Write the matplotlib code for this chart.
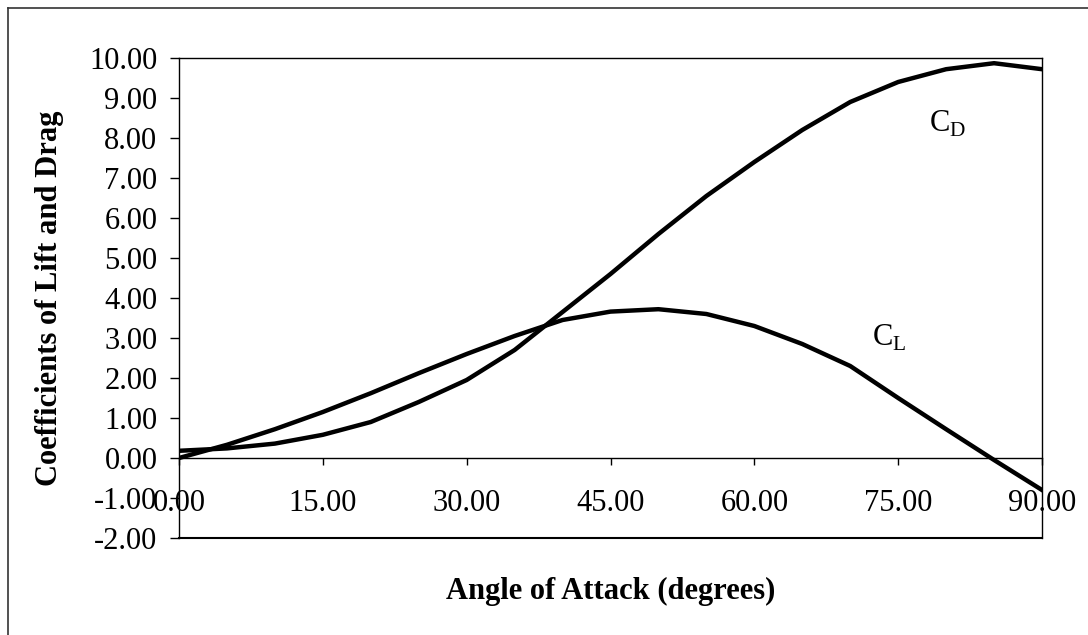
import matplotlib
matplotlib.use("Agg")
import matplotlib.pyplot as plt
from matplotlib.lines import Line2D

# values, every 5 degrees
angle = [0, 5, 10, 15, 20, 25, 30, 35, 40, 45, 50, 55, 60, 65, 70, 75, 80, 85, 90]
cl = [0.00, 0.33, 0.72, 1.15, 1.62, 2.12, 2.60, 3.05, 3.45, 3.66, 3.72, 3.60, 3.30, 2.85, 2.30, 1.50, 0.72, -0.05, -0.80]
cd = [0.18, 0.24, 0.36, 0.58, 0.90, 1.40, 1.95, 2.70, 3.65, 4.60, 5.60, 6.55, 7.40, 8.20, 8.90, 9.40, 9.72, 9.87, 9.72]

x_ticks = [0, 15, 30, 45, 60, 75, 90]
y_ticks = list(range(-2, 11))

plt.rcParams["font.family"] = ["Liberation Serif", "DejaVu Serif"]
plt.rcParams["mathtext.fontset"] = "custom"
plt.rcParams["mathtext.rm"] = "Liberation Serif"

fig = plt.figure(figsize=(10.88, 6.35), dpi=100)
ax = fig.add_axes([179 / 1088, 97 / 635, 863 / 1088, 480 / 635])

# outer chart frame (only left and top edges visible in the scan)
fig.add_artist(Line2D([8 / 1088, 8 / 1088], [0, 1 - 8 / 635], color="#333333", lw=1.2))
fig.add_artist(Line2D([8 / 1088, 1], [1 - 8 / 635, 1 - 8 / 635], color="#333333", lw=1.2))

ax.plot(angle, cd, color="black", lw=3.2, solid_joinstyle="round")
ax.plot(angle, cl, color="black", lw=3.2, solid_joinstyle="round")

ax.set_xlim(0, 90)
ax.set_ylim(-2, 10)

# box around the plot area, x axis crossing at zero
for s in ["left", "right", "top"]:
    ax.spines[s].set_linewidth(1.0)
ax.spines["bottom"].set_position(("data", 0))
ax.spines["bottom"].set_linewidth(1.0)
ax.axhline(-2, color="black", lw=1.5, clip_on=False)

ax.set_xticks(x_ticks)
ax.set_xticklabels([f"{v:.2f}" for v in x_ticks])
ax.set_yticks(y_ticks)
ax.set_yticklabels([f"{v:.2f}" for v in y_ticks])
ax.tick_params(axis="x", direction="out", length=5, width=1, pad=17, labelsize=22)
ax.tick_params(axis="y", direction="out", length=6.5, width=1, pad=9, labelsize=22)

ax.set_xlabel("Angle of Attack (degrees)", fontsize=22, fontweight="bold")
ax.set_ylabel("Coefficients of Lift and Drag", fontsize=22, fontweight="bold")
ax.xaxis.set_label_coords(0.5, -0.081)
ax.yaxis.set_label_coords(-0.133, 0.5)

ax.text(78.2, 8.35, r"C$_\mathrm{D}$", fontsize=22, va="center", ha="left")
ax.text(72.3, 3.0, r"C$_\mathrm{L}$", fontsize=22, va="center", ha="left")

fig.savefig("out.png", dpi=100)
